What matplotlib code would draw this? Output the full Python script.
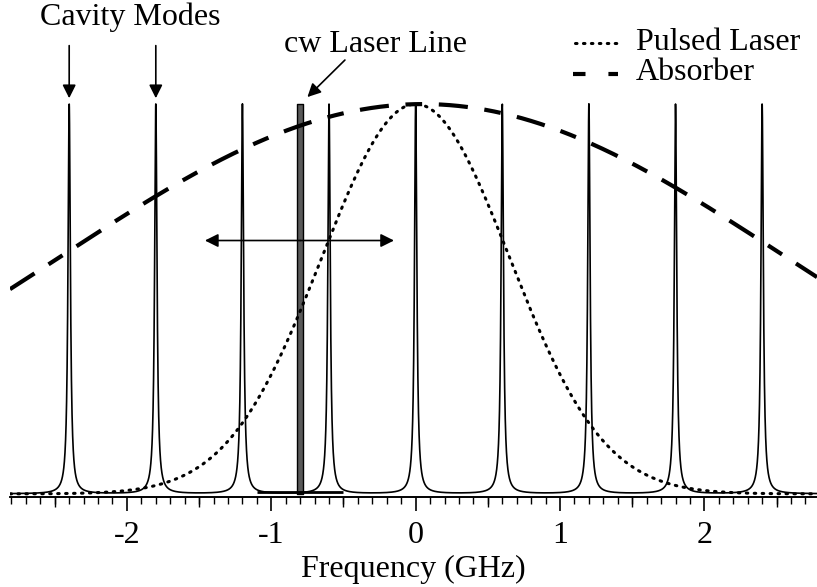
import numpy as np
import matplotlib
matplotlib.use("Agg")
import matplotlib.pyplot as plt
from matplotlib.lines import Line2D
from matplotlib.ticker import MultipleLocator

plt.rcParams['font.family'] = ['Liberation Serif', 'DejaVu Serif']
plt.rcParams['axes.unicode_minus'] = False

# cavity mode positions (GHz), spacing 0.6
mode_pos = [-2.4, -1.8, -1.2, -0.6, 0.0, 0.6, 1.2, 1.8, 2.4]
mode_hwhm = 0.01
cw_line = -0.8          # cw laser frequency
cw_scan = [-1.1, -0.5]  # baseline bar under cw line
cw_width = 0.045
pulse_center, pulse_sigma = 0.0, 0.65
absorb_center, absorb_sigma = 0.05, 2.52
xlim = [-2.81, 2.78]
half_ticks = [-2.5, -1.5, -0.5, 0.5, 1.5, 2.5]

f = np.linspace(xlim[0], xlim[1], 8000)
modes = np.zeros_like(f)
for m in mode_pos:
    modes += mode_hwhm**2 / ((f - m)**2 + mode_hwhm**2)
pulse = np.exp(-(f - pulse_center)**2 / (2 * pulse_sigma**2))
absorber = np.exp(-(f - absorb_center)**2 / (2 * absorb_sigma**2))

fs = 23
pulse_style = (0, (0.5, 2.1))
absorb_style = (0, (7, 4, 4, 4))

fig = plt.figure(figsize=(8.17, 5.87), dpi=100)
ax = fig.add_axes([10/817, 90/587, 807/817, 497/587])

ax.plot(f, modes, color='black', lw=1.2)
ax.plot(f, pulse, color='black', lw=2.2, linestyle=pulse_style,
        dash_capstyle='round')
ax.plot(f, absorber, color='black', lw=3, linestyle=absorb_style)

# cw laser line
ax.fill_between([cw_line - cw_width/2, cw_line + cw_width/2], 0, 1.0,
                facecolor='0.35', edgecolor='black', lw=1)
ax.hlines(0.005, cw_scan[0], cw_scan[1], color='black', lw=2)

arrow = dict(arrowstyle='-|>', color='black', lw=1.2,
             mutation_scale=20, shrinkA=0, shrinkB=0)

# scan arrows
ax.annotate('', xy=(-1.46, 0.65), xytext=(-0.8, 0.65), arrowprops=arrow)
ax.annotate('', xy=(-0.15, 0.65), xytext=(-0.8, 0.65), arrowprops=arrow)

# cavity mode labels
ax.text(-1.98, 1.222, 'Cavity Modes', fontsize=fs, ha='center', va='center')
for m in [-2.4, -1.8]:
    ax.annotate('', xy=(m, 1.015), xytext=(m, 1.15), arrowprops=arrow)
ax.text(-0.28, 1.152, 'cw Laser Line', fontsize=fs, ha='center', va='center')
ax.annotate('', xy=(-0.75, 1.018), xytext=(-0.49, 1.113), arrowprops=arrow)

# legend drawn by hand
fig.add_artist(Line2D([575/817, 618/817], [1 - 43/587, 1 - 43/587],
                      color='black', lw=2.2, linestyle=pulse_style,
                      dash_capstyle='round'))
fig.add_artist(Line2D([573/817, 618/817], [1 - 74/587, 1 - 74/587],
                      color='black', lw=3, linestyle=(0, (3, 5.5, 2.5, 5))))
fig.text(636/817, 1 - 42/587, 'Pulsed Laser', fontsize=fs, va='center')
fig.text(636/817, 1 - 73/587, 'Absorber', fontsize=fs, va='center')

ax.set_xlim(xlim)
ax.set_ylim(-0.008, 1.267)
ax.set_yticks([])
for s in ['top', 'left', 'right']:
    ax.spines[s].set_visible(False)
ax.spines['bottom'].set_linewidth(1.2)
ax.xaxis.set_major_locator(MultipleLocator(1))
ax.xaxis.set_minor_locator(MultipleLocator(0.1))
ax.tick_params(axis='x', which='major', length=10, width=1.2, labelsize=fs, pad=7.5)
ax.tick_params(axis='x', which='minor', length=5, width=1)
ax.set_xlabel('Frequency (GHz)', fontsize=fs, labelpad=3)

# medium ticks at the half GHz marks
sec = ax.secondary_xaxis('bottom')
sec.set_xticks(half_ticks, labels=[])
sec.tick_params(axis='x', length=7, width=1)
sec.spines['bottom'].set_linewidth(1.2)

fig.savefig('out.png', dpi=100)
